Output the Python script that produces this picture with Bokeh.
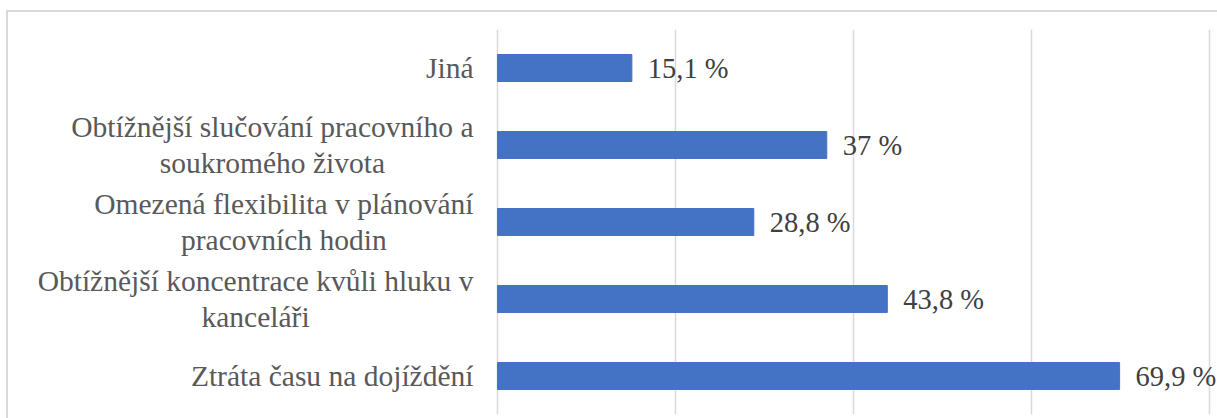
from bokeh.plotting import figure
from bokeh.models import FactorRange, Range1d, FixedTicker, ColumnDataSource, LabelSet
from bokeh.core.properties import value
from bokeh.embed import file_html
from bokeh.resources import INLINE

categories = [
    "Jiná",
    "Obtížnější slučování pracovního a soukromého života",
    "Omezená flexibilita v plánování pracovních hodin",
    "Obtížnější koncentrace kvůli hluku v kanceláři",
    "Ztráta času na dojíždění",
]
tick_text = [
    "Jiná",
    "Obtížnější slučování pracovního a\nsoukromého života",
    "Omezená flexibilita v plánování\npracovních hodin",
    "Obtížnější koncentrace kvůli hluku v\nkanceláři",
    "Ztráta času na dojíždění",
]
values = [15.1, 37, 28.8, 43.8, 69.9]
value_labels = ["15,1 %", "37 %", "28,8 %", "43,8 %", "69,9 %"]
x_ticks = [0, 20, 40, 60, 80]

src = ColumnDataSource(dict(cat=categories, val=values, lab=value_labels,
                            tick=tick_text, zero=[0] * len(values)))

p = figure(
    width=1209, height=406,
    y_range=FactorRange(factors=categories[::-1], range_padding=0),
    x_range=Range1d(-54.94, 80.9),
    output_backend="svg", toolbar_location=None,
    min_border_left=0, min_border_right=0, min_border_top=17, min_border_bottom=4,
    styles={"margin-left": "8px", "margin-top": "12px",
            "box-shadow": "0 0 0 2px #d9d9d9"},
)
p.outline_line_color = None
p.background_fill_color = "white"
p.border_fill_color = "white"
p.yaxis.visible = False
p.xaxis.visible = False

p.hbar(y="cat", right="val", left=0, height=0.35, source=src,
       fill_color="#4472C4", line_color="#4472C4")

p.xgrid.ticker = FixedTicker(ticks=x_ticks)
p.xgrid.grid_line_color = "#d9d9d9"
p.xgrid.grid_line_width = 1.5
p.ygrid.grid_line_color = None

p.text(x="zero", y="cat", text="tick", source=src, x_offset=-24,
       anchor="center_right", text_align="center", text_baseline="middle",
       text_font=value("Liberation Serif"), text_font_size="29.5px",
       text_color="#595959", text_line_height=1.12)

labels = LabelSet(x="val", y="cat", text="lab", source=src, x_offset=16,
                  text_baseline="middle", text_align="left",
                  text_font="Liberation Serif", text_font_size="28.5px",
                  text_color="#404040")
p.add_layout(labels)

open("out.html", "w").write(file_html(p, INLINE))
